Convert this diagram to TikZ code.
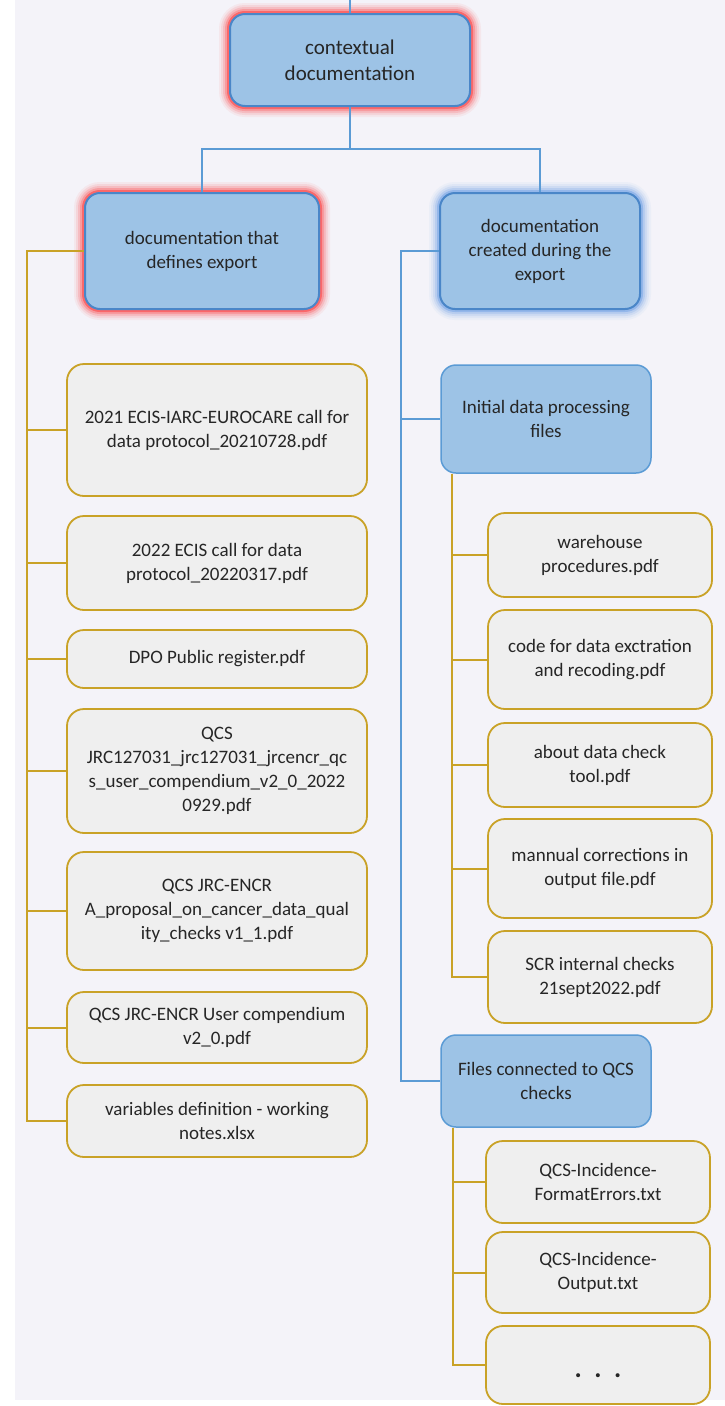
\documentclass[tikz,border=0pt]{standalone}
\usepackage{fontspec}
\setmainfont{Carlito}
\usetikzlibrary{calc}
\definecolor{bgc}{HTML}{F4F3F9}
\definecolor{bluefill}{HTML}{9DC3E6}
\definecolor{blueline}{HTML}{5B9BD5}
\definecolor{deepblue}{HTML}{4A86C8}
\definecolor{goldline}{HTML}{C9A227}
\definecolor{grayfill}{HTML}{EFEFEF}
\definecolor{txt}{HTML}{262626}
\definecolor{glowred}{HTML}{FF2A2A}
\definecolor{glowblue}{HTML}{6A9EE6}
\begin{document}
\begin{tikzpicture}[x=1pt,y=-1pt,
  basefont/.style={font=\fontsize{19}{24}\selectfont},
  bluebox/.style={draw=blueline, line width=1.5pt, fill=bluefill, rounded corners=15pt,
    align=center, text=txt, basefont, inner sep=0pt},
  filebox/.style={draw=goldline, line width=1.8pt, fill=grayfill, rounded corners=17pt,
    align=center, text=txt, basefont, inner sep=0pt},
  redglow/.style={draw=deepblue, line width=2pt,
    preaction={draw=glowred, line width=22pt, draw opacity=0.06},
    preaction={draw=glowred, line width=18pt, draw opacity=0.09},
    preaction={draw=glowred, line width=14pt, draw opacity=0.14},
    preaction={draw=glowred, line width=10pt, draw opacity=0.22},
    preaction={draw=glowred, line width=6pt, draw opacity=0.45}},
  blueglow/.style={draw=deepblue, line width=2pt,
    preaction={draw=glowblue, line width=22pt, draw opacity=0.06},
    preaction={draw=glowblue, line width=18pt, draw opacity=0.09},
    preaction={draw=glowblue, line width=14pt, draw opacity=0.14},
    preaction={draw=glowblue, line width=10pt, draw opacity=0.22},
    preaction={draw=glowblue, line width=6pt, draw opacity=0.45}},
  bline/.style={draw=blueline, line width=1.5pt},
  gline/.style={draw=goldline, line width=2pt},
]
\useasboundingbox (0,0) rectangle (725,1406);
\fill[bgc] (15,0) rectangle (725,1400);

% top levels
\node[bluebox, redglow, minimum width=240pt, minimum height=92pt,
  font=\fontsize{21}{26}\selectfont] (top) at (350,60) {contextual\\documentation};
\node[bluebox, redglow, minimum width=234pt, minimum height=116pt] (lchild) at (202,251)
  {documentation that\\defines export};
\node[bluebox, blueglow, minimum width=200pt, minimum height=116pt] (rchild) at (540,251)
  {documentation\\created during the\\export};

% left files
\node[filebox, minimum width=300pt, minimum height=132pt] (L1) at (217,430)
  {2021 ECIS-IARC-EUROCARE call for\\data protocol\_20210728.pdf};
\node[filebox, minimum width=300pt, minimum height=94pt] (L2) at (217,563)
  {2022 ECIS call for data\\protocol\_20220317.pdf};
\node[filebox, minimum width=300pt, minimum height=58pt] (L3) at (217,659)
  {DPO Public register.pdf};
\node[filebox, minimum width=300pt, minimum height=124pt] (L4) at (217,771)
  {QCS\\JRC127031\_jrc127031\_jrcencr\_qc\\s\_user\_compendium\_v2\_0\_2022\\0929.pdf};
\node[filebox, minimum width=300pt, minimum height=118pt] (L5) at (217,911)
  {QCS JRC-ENCR\\A\_proposal\_on\_cancer\_data\_qual\\ity\_checks v1\_1.pdf};
\node[filebox, minimum width=300pt, minimum height=71pt] (L6) at (217,1027.5)
  {QCS JRC-ENCR User compendium\\v2\_0.pdf};
\node[filebox, minimum width=300pt, minimum height=72pt] (L7) at (217,1121)
  {variables definition - working\\notes.xlsx};

% right side
\node[bluebox, minimum width=210pt, minimum height=108pt] (Rinit) at (546,419)
  {Initial data processing\\files};
\node[filebox, minimum width=224pt, minimum height=84pt] (Ra) at (600,555)
  {warehouse\\procedures.pdf};
\node[filebox, minimum width=224pt, minimum height=99pt] (Rb) at (600,659.5)
  {code for data exctration\\and recoding.pdf};
\node[filebox, minimum width=224pt, minimum height=84pt] (Rc) at (600,765)
  {about data check\\tool.pdf};
\node[filebox, minimum width=224pt, minimum height=99pt] (Rd) at (600,868.5)
  {mannual corrections in\\output file.pdf};
\node[filebox, minimum width=224pt, minimum height=92pt] (Re) at (600,977)
  {SCR internal checks\\21sept2022.pdf};
\node[bluebox, minimum width=210pt, minimum height=92pt] (Rfiles) at (546,1081)
  {Files connected to QCS\\checks};
\node[filebox, minimum width=224pt, minimum height=82pt] (Rf) at (598,1182)
  {QCS-Incidence-\\FormatErrors.txt};
\node[filebox, minimum width=224pt, minimum height=81pt] (Rg) at (598,1272.5)
  {QCS-Incidence-\\Output.txt};
\node[filebox, minimum width=224pt, minimum height=78pt] (Rh) at (598,1365)
  {\raisebox{-12pt}[0pt][0pt]{\fontsize{27}{27}\selectfont\textbf{.}\hspace{12.5pt}\textbf{.}\hspace{12.5pt}\textbf{.}}};

% connectors
\coordinate (topin) at (350,0);
\draw[bline] (topin) -- (top.north);
\draw[bline] (top.south) -- ++(0,42) coordinate (hub) -| (lchild.north);
\draw[bline] (hub) -| (rchild.north);

\coordinate (lbus) at (27,251);
\draw[gline] (lchild.west) -- (lbus) -- (lbus |- L7.west) -- (L7.west);
\foreach \n in {L1,L2,L3,L4,L5,L6}
  \draw[gline] (lbus |- \n.west) -- (\n.west);

\coordinate (rbus) at (401,251);
\draw[bline] (rchild.west) -- (rbus) -- (rbus |- Rfiles.west) -- (Rfiles.west);
\draw[bline] (rbus |- Rinit.west) -- (Rinit.west);

\coordinate (ibus) at ([xshift=12pt]Rinit.south west);
\draw[gline] (ibus) -- (ibus |- Re.west) -- (Re.west);
\foreach \n in {Ra,Rb,Rc,Rd}
  \draw[gline] (ibus |- \n.west) -- (\n.west);

\coordinate (fbus) at ([xshift=13pt]Rfiles.south west);
\draw[gline] (fbus) -- (fbus |- Rh.west) -- (Rh.west);
\foreach \n in {Rf,Rg}
  \draw[gline] (fbus |- \n.west) -- (\n.west);
\end{tikzpicture}
\end{document}
